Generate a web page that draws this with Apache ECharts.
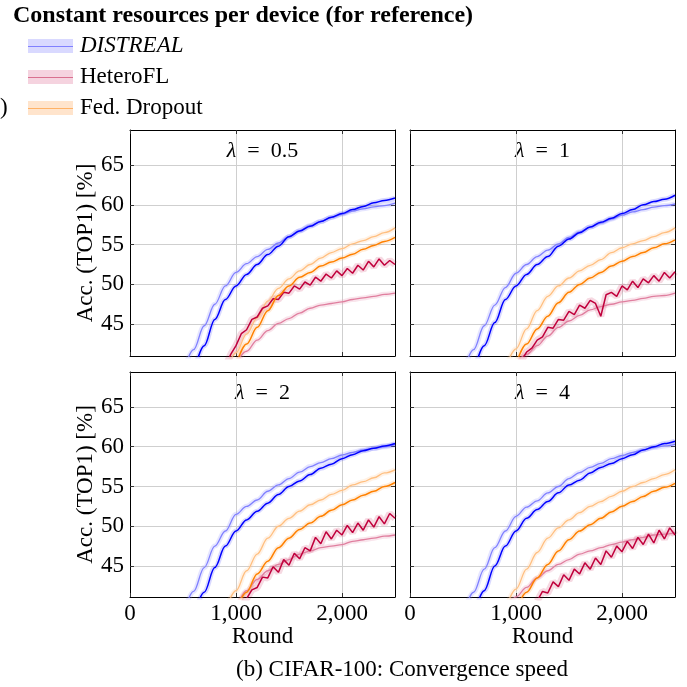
<!DOCTYPE html>
<html><head><meta charset="utf-8">
<script src="https://cdn.jsdelivr.net/npm/echarts@6/dist/echarts.min.js"></script>
<style>html,body{margin:0;padding:0;background:#fff}#c{width:687px;height:687px}</style>
</head><body><div id="c"></div>
<script>
// ---------------- data ----------------
const ROUNDS = [500,600,700,800,900,1000,1100,1200,1300,1400,1500,1600,1700,1800,1900,2000,2100,2200,2300,2400,2500];
const ROUNDS_FINE = [500,550,600,650,700,750,800,850,900,950,1000,1050,1100,1150,1200,1250,1300,1350,1400,1450,1500,1550,1600,1650,1700,1750,1800,1850,1900,1950,2000,2050,2100,2150,2200,2250,2300,2350,2400,2450,2500];
const X_TICKS = [0, 1000, 2000];
const Y_TICKS = [45, 50, 55, 60, 65];
const PANEL_LAMBDA = ['0.5', '1', '2', '4'];
const LEGEND_NAMES = ['DISTREAL', 'HeteroFL', 'Fed. Dropout'];

// λ = 0.5
const DISTREAL_05     = [null,38.8,42.3,45.6,48.1,49.8,51.25,52.5,53.75,54.8,56.0,56.7,57.3,57.9,58.45,58.9,59.4,59.8,60.25,60.55,60.85];
const DISTREAL_REF_05 = [38.8,41.8,44.8,47.5,49.8,51.5,52.6,53.5,54.4,55.2,56.0,56.75,57.4,57.9,58.4,58.8,59.2,59.5,59.75,59.9,60.2];
const HETERO_05       = [null,null,null,null,null,null,null,null,39.6,41.2,42.3,43.8,44.3,45.6,45.9,47.0,47.3,48.2,48.1,49.0,48.9,49.8,49.4,50.3,49.9,50.9,50.4,51.3,50.8,51.7,51.1,52.0,51.4,52.4,51.8,52.9,52.2,53.2,52.4,53.0,52.5];
const HETERO_REF_05   = [null,null,null,null,null,40.0,41.6,43.0,44.2,45.1,45.7,46.4,47.0,47.4,47.6,47.8,48.1,48.3,48.5,48.75,48.9];
const FD_05           = [null,null,null,null,null,39.9,42.5,44.6,46.7,48.6,49.8,50.9,51.5,52.3,52.8,53.3,53.8,54.4,54.9,55.4,55.9];
const FD_REF_05       = [null,null,null,null,38.9,41.4,43.75,45.8,47.9,49.5,50.7,51.7,52.5,53.3,54.0,54.5,55.1,55.5,56.0,56.5,57.1];
// λ = 1
const DISTREAL_1      = [null,38.8,42.3,45.2,48.1,49.8,51.25,52.5,53.5,54.8,55.7,56.5,57.2,57.8,58.3,58.9,59.4,60.0,60.4,60.7,61.2];
const DISTREAL_REF_1  = [38.8,41.8,44.8,47.4,49.6,51.4,52.5,53.5,54.3,55.1,55.9,56.6,57.2,57.7,58.2,58.7,59.1,59.4,59.7,59.9,60.1];
const HETERO_1        = [null,null,null,null,null,null,null,null,null,null,39.0,40.4,41.5,42.0,43.0,43.4,44.6,44.5,45.6,45.5,46.6,46.2,47.4,47.0,48.0,47.6,46.0,48.7,49.0,48.5,49.8,49.3,50.4,49.6,50.7,50.2,51.1,50.4,51.5,50.8,51.6];
const HETERO_REF_1    = [null,null,null,null,null,40.0,41.2,42.3,43.5,44.6,45.4,46.1,46.8,47.2,47.5,47.8,48.0,48.25,48.5,48.6,48.9];
const FD_1            = [null,null,null,null,null,40.0,42.5,44.4,46.0,47.7,49.0,50.0,50.8,51.5,52.3,52.9,53.5,54.0,54.6,55.1,55.6];
const FD_REF_1        = [null,null,null,null,39.4,41.9,44.4,46.7,48.5,49.8,50.8,51.7,52.4,53.1,54.0,54.6,55.1,55.5,56.0,56.5,57.1];
// λ = 2
const DISTREAL_2      = [null,38.5,41.7,44.8,47.5,49.4,50.8,51.9,52.9,54.0,55.0,55.7,56.5,57.3,57.8,58.5,59.0,59.5,59.8,60.1,60.4];
const DISTREAL_REF_2  = [38.8,41.8,44.8,47.5,49.4,51.5,52.5,53.3,54.4,55.2,56.0,56.8,57.5,58.0,58.5,58.96,59.3,59.6,59.8,60.0,60.25];
const HETERO_2        = [null,null,null,null,null,null,null,null,null,null,38.5,39.8,40.9,42.0,42.3,43.6,43.5,44.9,44.2,45.8,45.1,46.6,45.9,47.3,46.9,48.6,47.8,49.3,48.4,49.5,48.9,50.1,49.2,50.4,49.5,50.8,49.9,51.2,50.3,51.6,51.0];
const HETERO_REF_2    = [null,null,null,null,null,39.5,41.9,43.3,44.4,45.2,45.8,46.5,46.9,47.3,47.5,47.7,48.1,48.3,48.5,48.75,48.9];
const FD_2            = [null,null,null,null,null,39.3,41.7,44.0,45.6,47.3,48.5,49.6,50.4,51.25,52.0,52.7,53.3,53.9,54.4,55.0,55.5];
const FD_REF_2        = [null,null,null,null,39.4,41.9,44.4,46.5,48.5,50.0,51.0,51.9,52.7,53.3,54.0,54.5,55.2,55.6,56.1,56.7,57.1];
// λ = 4
const DISTREAL_4      = [null,38.6,41.9,45.0,47.5,49.4,51.0,52.1,53.1,54.2,55.2,55.8,56.7,57.4,57.9,58.5,59.0,59.6,60.0,60.4,60.7];
const DISTREAL_REF_4  = [38.8,41.7,44.6,47.3,49.4,51.25,52.4,53.2,54.2,55.0,56.0,56.75,57.4,57.9,58.5,58.9,59.3,59.6,59.9,60.1,60.3];
const HETERO_4        = [null,null,null,null,null,null,null,null,null,null,null,null,null,null,40.6,41.8,41.6,43.0,42.4,43.9,43.2,44.6,44.0,45.4,44.6,46.0,45.2,46.9,46.1,47.5,46.8,48.1,47.2,48.6,47.7,49.0,47.9,49.5,48.4,49.8,48.9];
const HETERO_REF_4    = [null,null,null,null,39.2,41.1,42.3,43.5,44.4,45.2,45.8,46.5,46.9,47.3,47.7,48.0,48.3,48.6,48.9,49.0,49.2];
const FD_4            = [null,null,null,null,null,39.3,41.7,43.5,45.2,46.9,48.3,49.4,50.2,51.0,51.8,52.5,53.1,53.75,54.4,54.9,55.4];
const FD_REF_4        = [null,null,null,null,39.5,42.1,44.6,46.7,48.5,49.8,50.8,51.7,52.5,53.1,53.75,54.4,55.0,55.5,56.0,56.5,57.1];

const PANELS = [
  {ref:[HETERO_REF_05, FD_REF_05, DISTREAL_REF_05], main:[HETERO_05, FD_05, DISTREAL_05]},
  {ref:[HETERO_REF_1,  FD_REF_1,  DISTREAL_REF_1],  main:[HETERO_1,  FD_1,  DISTREAL_1]},
  {ref:[HETERO_REF_2,  FD_REF_2,  DISTREAL_REF_2],  main:[HETERO_2,  FD_2,  DISTREAL_2]},
  {ref:[HETERO_REF_4,  FD_REF_4,  DISTREAL_REF_4],  main:[HETERO_4,  FD_4,  DISTREAL_4]},
];

// ---------------- style ----------------
const FONT = 'Liberation Serif';
const MAIN_COLORS = ['#c0003c', '#ff8000', '#0000ff'];
const REF_COLORS  = ['#e07f9f', '#ffbf80', '#8080ff'];
const LEG_LINE = ['#8080ff', '#d9708f', '#ffb266'];
const LEG_FILL = ['#d9d9ff', '#f5d3df', '#ffe4cc'];
const GRIDS = [
  {left:130, top:130, width:265, height:226, ymin:41.0, ymax:69.4},
  {left:410, top:130, width:265, height:226, ymin:41.0, ymax:69.4},
  {left:130, top:372, width:265, height:225, ymin:41.1, ymax:69.4},
  {left:410, top:372, width:265, height:225, ymin:41.1, ymax:69.4},
];

const grid = [], xAxis = [], yAxis = [], series = [];
GRIDS.forEach((g) => grid.push({left:g.left, top:g.top, width:g.width, height:g.height, containLabel:false}));
const frameLine = {show:true, onZero:false, lineStyle:{color:'#000', width:1}};
const tickStyle = (vals) => ({show:true, inside:true, length:4, customValues:vals, lineStyle:{color:'#333', width:1}});
GRIDS.forEach((g, i) => {
  xAxis.push({
    gridIndex:i, type:'value', min:0, max:2500, position:'bottom',
    axisLine:frameLine, axisTick:tickStyle(X_TICKS),
    axisLabel:{show:i>=2, customValues:X_TICKS, formatter:v=>v.toLocaleString('en-US'),
      fontFamily:FONT, fontSize:23, color:'#000', margin:5},
    splitLine:{show:true, lineStyle:{color:'#cfcfcf', width:1}},
    name: i>=2 ? 'Round' : '', nameLocation:'middle', nameGap:28,
    nameTextStyle:{fontFamily:FONT, fontSize:23, color:'#000'}
  });
});
GRIDS.forEach((g, i) => {
  xAxis.push({
    gridIndex:i, type:'value', min:0, max:2500, position:'top',
    axisLine:frameLine, axisTick:tickStyle(X_TICKS),
    axisLabel:{show:false}, splitLine:{show:false}
  });
});
GRIDS.forEach((g, i) => {
  yAxis.push({
    gridIndex:i, type:'value', min:g.ymin, max:g.ymax, position:'left',
    axisLine:frameLine, axisTick:tickStyle(Y_TICKS),
    axisLabel:{show:i%2===0, customValues:Y_TICKS, fontFamily:FONT, fontSize:23, color:'#000', margin:6},
    splitLine:{show:true, lineStyle:{color:'#cfcfcf', width:1}},
    name: i%2===0 ? 'Acc. (TOP1) [%]' : '', nameLocation:'middle', nameGap:31,
    nameTextStyle:{fontFamily:FONT, fontSize:23, color:'#000'}
  });
});
GRIDS.forEach((g, i) => {
  yAxis.push({
    gridIndex:i, type:'value', min:g.ymin, max:g.ymax, position:'right',
    axisLine:frameLine, axisTick:tickStyle(Y_TICKS),
    axisLabel:{show:false}, splitLine:{show:false}
  });
});

function pairs(arr){
  const xs = arr.length === ROUNDS_FINE.length ? ROUNDS_FINE : ROUNDS;
  return xs.map((r, k) => [r, arr[k]]);
}
function lineSeries(i, arr, color, width, opacity, z, smooth){
  return {type:'line', xAxisIndex:i, yAxisIndex:i, data:pairs(arr), showSymbol:false, silent:true,
    z:z, clip:true, smooth:smooth ? 0.35 : false, smoothMonotone:'x',
    lineStyle:{color:color, width:width, opacity:opacity}};
}

PANELS.forEach((p, i) => {
  p.ref.forEach((arr, k) => series.push(lineSeries(i, arr, REF_COLORS[k], 5, 0.2, 1, true)));
  p.main.forEach((arr, k) => series.push(lineSeries(i, arr, MAIN_COLORS[k], k===0?7:5, 0.15, 1, k!==0)));
  p.ref.forEach((arr, k) => series.push(lineSeries(i, arr, REF_COLORS[k], 1.3, 1, 2, true)));
  p.main.forEach((arr, k) => series.push(lineSeries(i, arr, MAIN_COLORS[k], 1.5, 1, 3, k!==0)));
});

// ---------------- graphic texts & legend ----------------
const graphic = [];
GRIDS.forEach((g, i) => {
  graphic.push({type:'text', x:g.left + g.width/2, y:g.top + 21,
    style:{text:'{l|λ}\u2002=\u2002' + PANEL_LAMBDA[i], fontFamily:FONT, fontSize:22, fill:'#000',
      textAlign:'center', textVerticalAlign:'middle',
      rich:{l:{fontFamily:FONT, fontSize:22, fontStyle:'italic', fill:'#000'}}}});
});
graphic.push({type:'text', x:13, y:16, style:{text:'Constant resources per device (for reference)',
  fontFamily:FONT, fontSize:24, fontWeight:'bold', fill:'#000', textVerticalAlign:'middle'}});
const LEG_Y = [46, 77, 108];
LEGEND_NAMES.forEach((n, k) => {
  graphic.push({type:'rect', shape:{x:28, y:LEG_Y[k]-7, width:45, height:14}, style:{fill:LEG_FILL[k]}});
  graphic.push({type:'line', shape:{x1:28, y1:LEG_Y[k]+0.5, x2:73, y2:LEG_Y[k]+0.5}, style:{stroke:LEG_LINE[k], lineWidth:1.2}});
  graphic.push({type:'text', x:80, y:LEG_Y[k], style:{text:n, fontFamily:FONT, fontSize:23,
    fontStyle:k===0?'italic':'normal', fill:'#000', textVerticalAlign:'middle'}});
});
graphic.push({type:'text', x:0, y:108, style:{text:')', fontFamily:FONT, fontSize:23, fill:'#000', textVerticalAlign:'middle'}});
graphic.push({type:'text', x:402, y:670, style:{text:'(b) CIFAR-100: Convergence speed', fontFamily:FONT, fontSize:23,
  fill:'#000', textAlign:'center', textVerticalAlign:'middle'}});

const chart = echarts.init(document.getElementById('c'), null, {renderer:'canvas'});
chart.setOption({backgroundColor:'#fff', animation:false, grid, xAxis, yAxis, series, graphic});
</script></body></html>
